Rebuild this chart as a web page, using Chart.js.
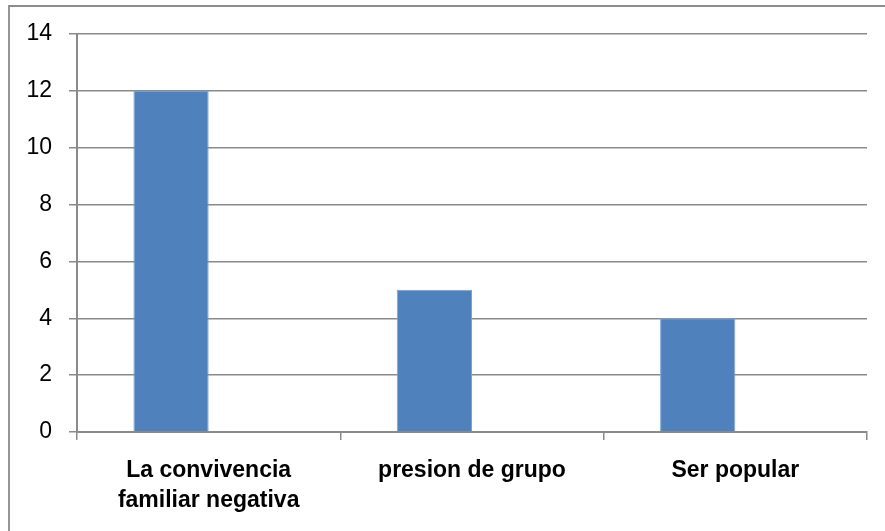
<!DOCTYPE html>
<html>
<head>
<meta charset="utf-8">
<script src="https://cdn.jsdelivr.net/npm/chart.js"></script>
<style>
  html, body { margin: 0; padding: 0; background: #fff; }
  #marco { position: relative; width: 885px; height: 531px; overflow: hidden; }
  #borde { position: absolute; left: 8px; top: 5px; width: 900px; height: 560px;
           border-left: 2px solid #969696; border-top: 2px solid #8c8c8c; }
  #grafico { position: absolute; left: 0; top: 0; }
</style>
</head>
<body>
<div id="marco">
  <div id="borde"></div>
  <canvas id="grafico" width="885" height="531"></canvas>
</div>
<script>
// Datos
const categorias = [["La convivencia", "familiar negativa"], "presion de grupo", "Ser popular"];
const valores = [12, 5, 4];
const serieVacia = [null, null, null]; // segunda serie sin datos (deja el hueco a la derecha)
const ejeY = { min: 0, max: 14, paso: 2 };

const gris = "#8a8a8a";

new Chart(document.getElementById("grafico"), {
  type: "bar",
  data: {
    labels: categorias,
    datasets: [
      {
        label: "Serie 1",
        data: valores,
        backgroundColor: "#4f81bd",
        borderColor: "#7ea1cf",
        borderWidth: 1,
        categoryPercentage: 2 / 3.5,
        barPercentage: 1,
      },
      {
        label: "Serie 2",
        data: serieVacia,
        backgroundColor: "#c0504d",
        categoryPercentage: 2 / 3.5,
        barPercentage: 1,
      },
    ],
  },
  options: {
    responsive: false,
    animation: false,
    events: [],
    layout: { padding: { left: 0, top: 34, right: 18, bottom: 0 } },
    plugins: { legend: { display: false }, tooltip: { enabled: false } },
    scales: {
      x: {
        afterFit: (s) => { s.height = 99; },
        grid: {
          offset: true,
          drawOnChartArea: false,
          drawTicks: true,
          tickLength: 8,
          color: gris,
          lineWidth: 1.5,
        },
        border: { display: true, color: gris, width: 2 },
        ticks: {
          color: "#000",
          padding: 16,
          maxRotation: 0,
          autoSkip: false,
          font: { family: "'Liberation Sans', sans-serif", size: 23, weight: "bold", lineHeight: 1.28 },
        },
      },
      y: {
        min: ejeY.min,
        max: ejeY.max,
        afterFit: (s) => { s.width = 77; },
        grid: {
          color: gris,
          lineWidth: 1.5,
          drawTicks: true,
          tickLength: 8,
        },
        border: { display: true, color: gris, width: 2 },
        ticks: {
          stepSize: ejeY.paso,
          color: "#000",
          padding: 17,
          font: { family: "'Liberation Sans', sans-serif", size: 23 },
        },
      },
    },
  },
});
</script>
</body>
</html>
